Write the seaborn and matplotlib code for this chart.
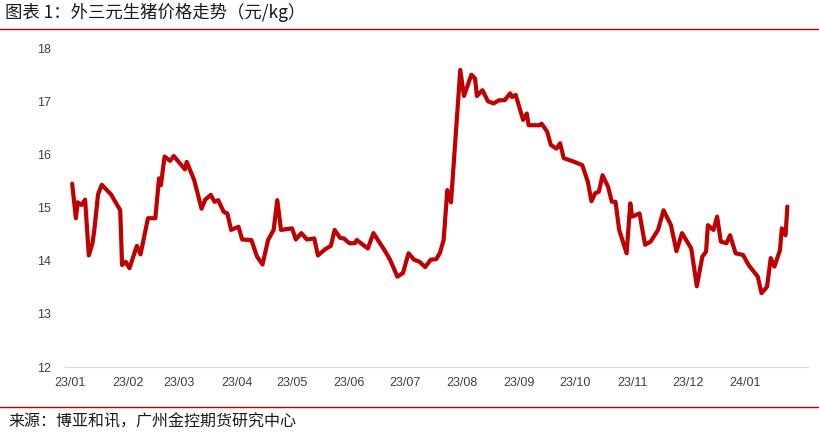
import pandas as pd
import matplotlib.pyplot as plt
import matplotlib.dates as mdates
from matplotlib.lines import Line2D
import seaborn as sns

dates = [
    "2023-01-02", "2023-01-04", "2023-01-05", "2023-01-07", "2023-01-09", "2023-01-11",
    "2023-01-13", "2023-01-14", "2023-01-16", "2023-01-18", "2023-01-23", "2023-01-28",
    "2023-01-29", "2023-01-31", "2023-02-02", "2023-02-06", "2023-02-08", "2023-02-12",
    "2023-02-16", "2023-02-18", "2023-02-19", "2023-02-21", "2023-02-24", "2023-02-26",
    "2023-03-04", "2023-03-05", "2023-03-09", "2023-03-13", "2023-03-15", "2023-03-18",
    "2023-03-20", "2023-03-22", "2023-03-25", "2023-03-27", "2023-03-29", "2023-04-02",
    "2023-04-04", "2023-04-09", "2023-04-12", "2023-04-15", "2023-04-18", "2023-04-21",
    "2023-04-23", "2023-04-25", "2023-05-01", "2023-05-03", "2023-05-06", "2023-05-09",
    "2023-05-13", "2023-05-15", "2023-05-19", "2023-05-22", "2023-05-24", "2023-05-27",
    "2023-05-29", "2023-06-01", "2023-06-04", "2023-06-05", "2023-06-11", "2023-06-14",
    "2023-06-20", "2023-06-23", "2023-06-27", "2023-06-30", "2023-07-03", "2023-07-06",
    "2023-07-09", "2023-07-12", "2023-07-15", "2023-07-18", "2023-07-20", "2023-07-22",
    "2023-07-24", "2023-07-26", "2023-07-31", "2023-08-02", "2023-08-06", "2023-08-08",
    "2023-08-09", "2023-08-12", "2023-08-15", "2023-08-18", "2023-08-21", "2023-08-24",
    "2023-08-27", "2023-08-28", "2023-08-30", "2023-09-03", "2023-09-05", "2023-09-06",
    "2023-09-12", "2023-09-13", "2023-09-16", "2023-09-18", "2023-09-21", "2023-09-23",
    "2023-09-25", "2023-09-30", "2023-10-05", "2023-10-08", "2023-10-10", "2023-10-12",
    "2023-10-14", "2023-10-16", "2023-10-19", "2023-10-21", "2023-10-23", "2023-10-25",
    "2023-10-29", "2023-10-31", "2023-11-01", "2023-11-05", "2023-11-08", "2023-11-11",
    "2023-11-15", "2023-11-18", "2023-11-22", "2023-11-25", "2023-11-28", "2023-12-03",
    "2023-12-06", "2023-12-09", "2023-12-11", "2023-12-12", "2023-12-15", "2023-12-17",
    "2023-12-19", "2023-12-22", "2023-12-24", "2023-12-27", "2023-12-31", "2024-01-03",
    "2024-01-08", "2024-01-10", "2024-01-13", "2024-01-15", "2024-01-17", "2024-01-20",
    "2024-01-21", "2024-01-23", "2024-01-24",
]
prices = [
    15.45, 14.80, 15.10, 15.05, 15.15, 14.10,
    14.33, 14.58, 15.25, 15.43, 15.25, 14.95,
    13.92, 13.98, 13.86, 14.28, 14.12, 14.80,
    14.80, 15.55, 15.42, 15.96, 15.88, 15.97,
    15.72, 15.86, 15.52, 14.98, 15.15, 15.24,
    15.11, 15.14, 14.92, 14.89, 14.58, 14.64,
    14.40, 14.39, 14.08, 13.93, 14.39, 14.58,
    15.14, 14.58, 14.61, 14.40, 14.52, 14.40,
    14.42, 14.10, 14.22, 14.28, 14.58, 14.43,
    14.42, 14.33, 14.33, 14.39, 14.23, 14.52,
    14.20, 14.02, 13.70, 13.77, 14.14, 14.02,
    13.98, 13.88, 14.02, 14.03, 14.15, 14.39,
    15.33, 15.10, 17.59, 17.10, 17.50, 17.43,
    17.10, 17.21, 17.00, 16.96, 17.02, 17.02,
    17.15, 17.08, 17.12, 16.65, 16.77, 16.55,
    16.55, 16.58, 16.43, 16.18, 16.11, 16.21,
    15.93, 15.87, 15.80, 15.49, 15.12, 15.27,
    15.30, 15.61, 15.39, 15.11, 15.11, 14.58,
    14.14, 15.08, 14.83, 14.89, 14.30, 14.36,
    14.58, 14.95, 14.67, 14.18, 14.52, 14.23,
    13.52, 14.08, 14.17, 14.67, 14.58, 14.83,
    14.36, 14.33, 14.48, 14.14, 14.11, 13.92,
    13.70, 13.39, 13.51, 14.05, 13.89, 14.20,
    14.61, 14.48, 15.02,
]
month_ticks = pd.date_range("2023-01-01", "2024-01-01", freq="MS")
title = "图表 1：外三元生猪价格走势（元/kg）"
source = "来源：博亚和讯，广州金控期货研究中心"

df = pd.DataFrame({"date": pd.to_datetime(dates), "price": prices})

sns.set_style("white")
plt.rcParams["font.family"] = ["Noto Sans CJK SC", "DejaVu Sans"]

fig = plt.figure(figsize=(8.2, 4.38), dpi=100)
ax = fig.add_axes([0.079, 0.162, 0.906, 0.728])
sns.lineplot(data=df, x="date", y="price", ax=ax, color="#C00000", linewidth=3.0)

ax.set_xlim(pd.Timestamp("2022-12-29"), pd.Timestamp("2024-02-04"))
ax.set_ylim(12, 18)
ax.set_yticks(range(12, 19))
ax.set_xticks(month_ticks)
ax.xaxis.set_major_formatter(mdates.DateFormatter("%y/%m"))
ax.set_xlabel("")
ax.set_ylabel("")
for s in ["top", "right", "left"]:
    ax.spines[s].set_visible(False)
ax.spines["bottom"].set_color("#D9D9D9")
ax.tick_params(axis="x", colors="#404040", labelsize=9, length=0, pad=7)
ax.tick_params(axis="y", colors="#404040", labelsize=9, length=0, pad=10)
for lab in ax.get_xticklabels() + ax.get_yticklabels():
    lab.set_fontfamily(["Liberation Sans", "DejaVu Sans"])

fig.text(0.006, 0.972, title, fontsize=12.5, color="#1a1a1a", va="center", ha="left")
fig.add_artist(Line2D([0, 1], [0.934, 0.934], transform=fig.transFigure, color="#B00000", linewidth=1.0))
fig.add_artist(Line2D([0, 1], [0.071, 0.071], transform=fig.transFigure, color="#C00000", linewidth=1.0))
fig.text(0.01, 0.036, source, fontsize=11.5, color="#1a1a1a", va="center", ha="left")

fig.savefig("out.png", dpi=100)
